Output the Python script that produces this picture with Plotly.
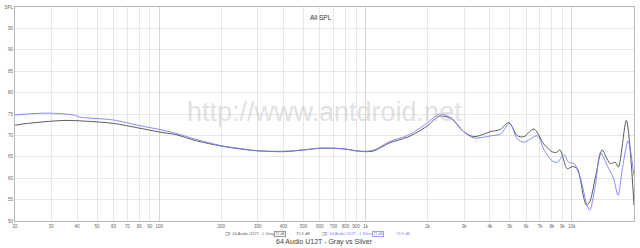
import math
import plotly.graph_objects as go

# ---- data ----
gray_freq = [20, 23, 28, 35, 45, 60, 80, 100, 120, 150, 200, 250, 300, 400, 500, 600, 700, 800, 900, 1000,
             1100, 1300, 1600, 1850, 2000, 2280, 2600, 3000, 3360, 4050, 4500, 4950, 5450, 5860, 6550, 7300,
             8000, 8400, 8750, 9490, 10030, 10610, 11010, 11390, 11770, 12210, 13010, 14010, 14810, 15370,
             16240, 16800, 18360, 20000]
gray_db = [72.4, 72.8, 73.2, 73.5, 73.3, 72.8, 71.7, 70.8, 70.2, 68.8, 67.5, 66.8, 66.4, 66.2, 66.6, 67.0,
           67.0, 66.8, 66.4, 66.2, 66.4, 68.2, 69.6, 71.2, 72.3, 74.5, 73.9, 70.8, 69.7, 70.9, 71.4, 73.0,
           69.9, 69.7, 71.5, 68.0, 66.2, 66.0, 66.6, 62.2, 62.7, 62.3, 59.5, 55.6, 53.7, 54.5, 60.3, 66.6,
           64.5, 63.4, 63.7, 62.6, 73.5, 53.7]

silver_freq = [20, 28, 35, 39, 41, 60, 80, 100, 120, 150, 200, 250, 300, 400, 500, 600, 700, 800, 900, 1000,
               1100, 1300, 1600, 1850, 2000, 2280, 2600, 3000, 3360, 4050, 4500, 5000, 5450, 5860, 6800, 7300,
               8000, 8500, 9140, 9670, 10290, 10610, 11010, 11390, 11770, 12210, 13010, 13750, 14810, 15370,
               15940, 16740, 17600, 18710, 20000]
silver_db = [74.8, 75.2, 75.0, 74.7, 74.3, 73.6, 72.3, 71.4, 70.5, 69.1, 67.6, 66.9, 66.4, 66.3, 66.6, 67.0,
             67.0, 66.8, 66.4, 66.3, 66.6, 68.5, 70.0, 71.8, 73.0, 75.0, 74.1, 70.8, 69.4, 69.9, 70.3, 72.8,
             69.1, 68.4, 69.9, 66.8, 64.1, 63.7, 65.5, 63.7, 63.4, 62.0, 60.0, 57.0, 54.0, 52.5, 58.5, 66.0,
             63.0, 61.5, 59.9, 56.0, 62.5, 68.7, 60.6]

x_ticks = [20, 30, 40, 50, 60, 70, 80, 90, 100, 200, 300, 400, 500, 600, 700, 800, 900, 1000,
           2000, 3000, 4000, 5000, 6000, 7000, 8000, 9000, 10000, 20000]
x_labels = ["20", "30", "40", "50", "60", "70", "80", "90", "100", "200", "300", "400", "500", "600",
            "700", "800", "900", "1k", "2k", "3k", "4k", "5k", "6k", "7k", "8k", "9k", "10k", "20kHz"]
decade_ticks = [100, 1000, 10000]
y_ticks = [50, 55, 60, 65, 70, 75, 80, 85, 90, 95, 100]
y_labels = ["50", "55", "60", "65", "70", "75", "80", "85", "90", "95", "SPL"]

FONT = "Liberation Sans, Arial, sans-serif"
GRAY = "#4a4a4a"
BLUE = "#7c7cff"

fig = go.Figure()
fig.add_trace(go.Scatter(x=gray_freq, y=gray_db, mode="lines", name="1: 64 Audio U12T - L Gray",
                         line=dict(color=GRAY, width=0.9, shape="spline", smoothing=0.8)))
fig.add_trace(go.Scatter(x=silver_freq, y=silver_db, mode="lines", name="2: 64 Audio U12T - L Silver",
                         line=dict(color=BLUE, width=0.9, shape="spline", smoothing=0.8)))

fig.update_layout(
    width=640, height=248,
    margin=dict(l=13, r=6, t=5, b=27),
    paper_bgcolor="white", plot_bgcolor="white",
    showlegend=False,
    font=dict(family=FONT, color="#555555"),
    xaxis=dict(type="log", range=[math.log10(20), math.log10(20000)],
               tickvals=x_ticks, ticktext=x_labels, tickfont=dict(size=4.5, color="#666666"),
               showgrid=True, gridcolor="#e6e6e6", gridwidth=1,
               showline=True, linecolor="#b8b8b8", linewidth=1, mirror=True,
               ticks="outside", ticklen=1, tickcolor="rgba(0,0,0,0)", zeroline=False),
    xaxis2=dict(type="log", range=[math.log10(20), math.log10(20000)], overlaying="x",
                tickvals=decade_ticks, showticklabels=False, showgrid=True,
                gridcolor="#d6d6d6", gridwidth=1, ticks="", zeroline=False),
    yaxis=dict(range=[50, 100], tickvals=y_ticks, ticktext=y_labels,
               tickfont=dict(size=4.5, color="#666666"),
               showgrid=True, gridcolor="#e6e6e6", gridwidth=1,
               showline=True, linecolor="#b8b8b8", linewidth=1, mirror=True,
               ticks="", zeroline=False),
)
# invisible trace to activate xaxis2 grid
fig.add_trace(go.Scatter(x=[20, 20000], y=[None, None], xaxis="x2", mode="lines",
                         hoverinfo="skip", showlegend=False))

ann = []
ann.append(dict(text="http://www.antdroid.net", x=0.5, y=0.51, xref="paper", yref="paper",
                showarrow=False, font=dict(size=27, color="rgba(195,195,195,0.5)", family=FONT)))
ann.append(dict(text="All SPL", x=0.494, y=0.975, xref="paper", yref="paper", showarrow=False,
                font=dict(size=6.5, color="#333333", family=FONT)))
ann.append(dict(text="64 Audio U12T - Gray vs Silver", x=0.5, y=-0.098, xref="paper", yref="paper",
                showarrow=False, yanchor="middle", font=dict(size=7, color="#444444", family=FONT)))

def px(xp):
    return (xp - 13) / (634 - 13)

def py(yp):
    return (221 - yp) / 216

legend_y = py(234)
items = [
    (226, "☑", "#777777", 5, None),
    (249.5, "1: 64 Audio U12T - L Gray", "#666666", 4, None),
    (278.5, "72 dB", "#666666", 3.6, "#777777"),
    (302, "72.6 dB", "#666666", 4, None),
    (323, "☑", "#777777", 5, None),
    (348.5, "2: 64 Audio U12T - L Silver", BLUE, 4, None),
    (377, "72 dB", BLUE, 3.6, BLUE),
    (402, "74.9 dB", BLUE, 4, None),
]
for xp, t, c, s, bc in items:
    d = dict(text=t, x=px(xp), y=legend_y, xref="paper", yref="paper", showarrow=False,
             font=dict(size=s, color=c, family=FONT), yanchor="middle")
    if bc:
        d.update(bordercolor=bc, borderwidth=0.7, borderpad=0.5)
    ann.append(d)

fig.update_layout(annotations=ann)
fig.write_html("out.html")
